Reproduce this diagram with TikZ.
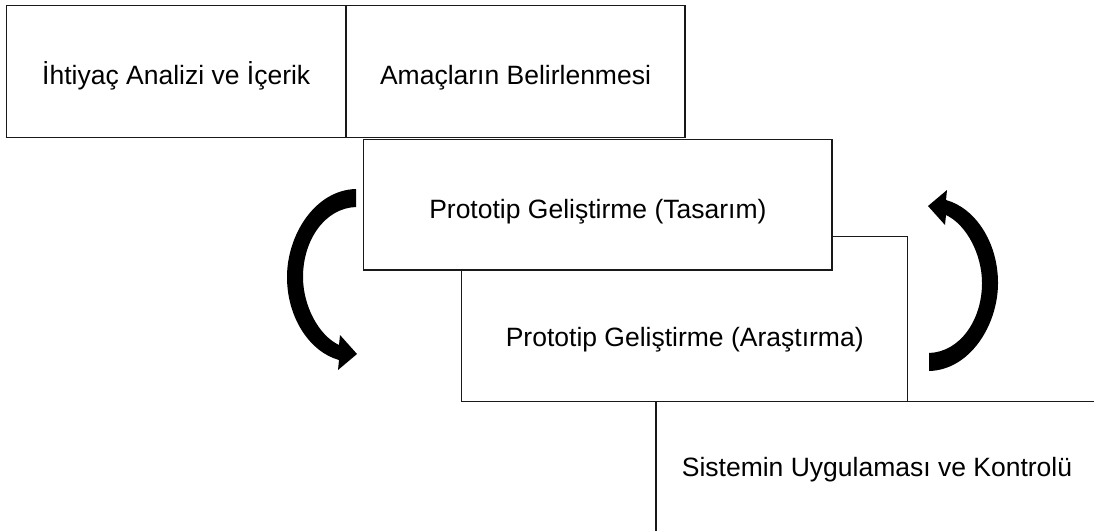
\documentclass[tikz,border=0pt]{standalone}
\usepackage{fontspec}
\setmainfont{Liberation Sans}
\begin{document}
\begin{tikzpicture}[x=1pt,y=-1pt,
  stage/.style={draw=black!90, line width=1.3pt, fill=white, inner sep=0pt, rectangle},
  caption/.style={font=\fontsize{26.5}{32}\selectfont, inner sep=0pt, anchor=base},
  bendarrow/.style={fill=black, draw=none}]
\useasboundingbox (0,0) rectangle (1094,530);
\clip (0,0) rectangle (1094,530);

% frames, back to front
\node[stage, minimum width=446pt, minimum height=165pt] (research) at (684.7,319.2) {};
\node[stage, minimum width=442pt, minimum height=130.3pt] (apply) at (877,466.85) {};
\node[stage, minimum width=468.3pt, minimum height=130.5pt] (design) at (597.85,204.75) {};
\node[stage, minimum width=339.5pt, minimum height=132.2pt] (needs) at (176.25,71.6) {};
\node[stage, minimum width=339pt, minimum height=132.2pt] (goals) at (515.5,71.6) {};

% captions, set on a common baseline per frame
\node[caption] (tneeds) at (176.25,84) {İhtiyaç Analizi ve İçerik};
\node[caption] (tgoals) at (515.5,84) {Amaçların Belirlenmesi};
\node[caption] (tdesign) at (597.85,218) {Prototip Geliştirme (Tasarım)};
\node[caption] (tresearch) at (684.7,346) {Prototip Geliştirme (Araştırma)};
\node[caption] (tapply) at (877,476) {Sistemin Uygulaması ve Kontrolü};

% curved block arrow, design -> research
\def\bentshape{(356,189) .. controls (315,190) and (287,235) .. (287,277)
  .. controls (287,318) and (310,352) .. (339,360) -- (338,370) -- (357,354)
  -- (340,335) -- (339,345) .. controls (318,335) and (303,305) .. (303,277)
  .. controls (303,240) and (325,208) .. (356,207) -- cycle}
\fill[bendarrow] \bentshape;
% the same arrow turned round, research -> design
\begin{scope}[rotate around={180:(642.5,280)}]
  \fill[bendarrow] \bentshape;
\end{scope}
\end{tikzpicture}
\end{document}
